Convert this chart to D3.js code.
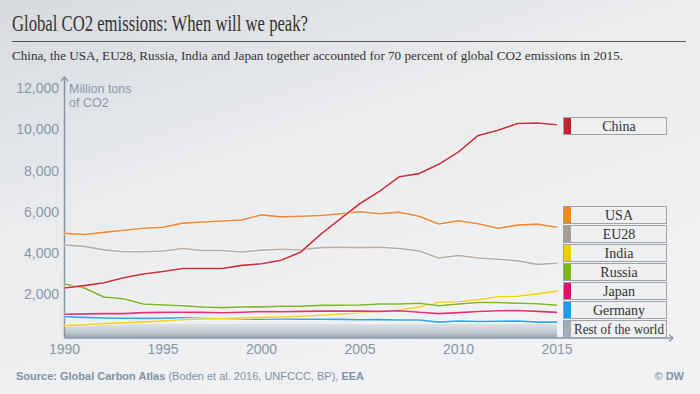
<!DOCTYPE html>
<html>
<head>
<meta charset="utf-8">
<script src="https://cdn.jsdelivr.net/npm/d3@7"></script>
<style>
  html, body { margin: 0; padding: 0; }
  body { width: 700px; height: 394px; overflow: hidden; }
</style>
</head>
<body>
<div id="chart"></div>
<script>
'use strict'

// data (million tons of CO2)
const years = d3.range(1990, 2016)
const china = [2300, 2420, 2560, 2800, 2980, 3100, 3250, 3250, 3250, 3400, 3480, 3650, 4050, 4900, 5650, 6400, 7000, 7700, 7850, 8300, 8900, 9700, 9950, 10280, 10300, 10220]
const usa = [4950, 4900, 5000, 5100, 5200, 5250, 5450, 5500, 5550, 5600, 5850, 5750, 5780, 5820, 5900, 6000, 5900, 5980, 5780, 5410, 5560, 5420, 5200, 5350, 5400, 5250]
const eu28 = [4390, 4320, 4150, 4060, 4060, 4100, 4220, 4120, 4120, 4050, 4140, 4180, 4160, 4260, 4280, 4260, 4280, 4220, 4100, 3760, 3880, 3760, 3700, 3620, 3450, 3500]
const india = [480, 520, 580, 610, 660, 700, 760, 800, 820, 860, 880, 900, 930, 980, 1040, 1100, 1160, 1250, 1380, 1610, 1640, 1730, 1880, 1900, 2020, 2150]
const russia = [2500, 2300, 1870, 1780, 1530, 1480, 1440, 1380, 1350, 1380, 1390, 1420, 1420, 1460, 1470, 1480, 1530, 1530, 1560, 1440, 1530, 1600, 1600, 1560, 1540, 1470]
const japan = [1030, 1050, 1060, 1060, 1110, 1120, 1130, 1120, 1100, 1130, 1160, 1150, 1170, 1180, 1180, 1180, 1170, 1200, 1130, 1060, 1110, 1160, 1200, 1210, 1170, 1120]
const germany = [910, 880, 850, 840, 830, 830, 860, 830, 820, 800, 790, 800, 790, 790, 780, 760, 770, 750, 750, 650, 700, 680, 690, 700, 650, 650]
const restBand = [560, 560]   // rest of the world, drawn as a faded band at the bottom

const series = [
  { name: 'China', values: china, color: '#cf2e3b', key: '#c8202f' },
  { name: 'USA', values: usa, color: '#f08837', key: '#ef8a12' },
  { name: 'EU28', values: eu28, color: '#b8aea5', key: '#a89d92' },
  { name: 'India', values: india, color: '#f4d21c', key: '#eed000' },
  { name: 'Russia', values: russia, color: '#80b52a', key: '#7db714' },
  { name: 'Japan', values: japan, color: '#e23179', key: '#e2106c' },
  { name: 'Germany', values: germany, color: '#2ea7f2', key: '#12a0f6' },
  { name: 'Rest of the world', values: null, color: '#a6b0ba', key: '#a3adb7' }
]
const yTicks = [2000, 4000, 6000, 8000, 10000, 12000]
const xTicks = [1990, 1995, 2000, 2005, 2010, 2015]

const W = 700
const H = 394
const axisColor = '#8394a6'
const labelColor = '#8797a8'

const svg = d3.select('#chart').append('svg')
  .attr('width', W).attr('height', H)
  .style('font-family', "'Liberation Sans', Arial, sans-serif")

const defs = svg.append('defs')
const bg = defs.append('linearGradient').attr('id', 'bg')
  .attr('x1', '0').attr('y1', '0').attr('x2', '0.6').attr('y2', '1')
bg.append('stop').attr('offset', '0').attr('stop-color', '#d6dadf')
bg.append('stop').attr('offset', '0.45').attr('stop-color', '#eaecee')
bg.append('stop').attr('offset', '1').attr('stop-color', '#f1f2f3')

const band = defs.append('linearGradient').attr('id', 'band')
  .attr('x1', '0').attr('y1', '0').attr('x2', '0').attr('y2', '1')
band.append('stop').attr('offset', '0').attr('stop-color', '#dfe3e7')
band.append('stop').attr('offset', '0.35').attr('stop-color', '#c6cdd4')
band.append('stop').attr('offset', '1').attr('stop-color', '#9ea8b2')

svg.append('rect').attr('width', W).attr('height', H).attr('fill', 'url(#bg)')

// title and subtitle
svg.append('text')
  .attr('x', 12).attr('y', 31)
  .attr('textLength', 296).attr('lengthAdjust', 'spacingAndGlyphs')
  .style('font-family', "'Liberation Serif', 'DejaVu Serif', serif")
  .style('font-size', '23px').attr('fill', '#333')
  .text('Global CO2 emissions: When will we peak?')
svg.append('line')
  .attr('x1', 12).attr('x2', 686).attr('y1', 41.5).attr('y2', 41.5)
  .attr('stroke', '#555').attr('stroke-width', 1)
svg.append('text')
  .attr('x', 12).attr('y', 60)
  .attr('textLength', 611).attr('lengthAdjust', 'spacingAndGlyphs')
  .style('font-family', "'Liberation Serif', 'DejaVu Serif', serif")
  .style('font-size', '13.5px').attr('fill', '#333')
  .text('China, the USA, EU28, Russia, India and Japan together accounted for 70 percent of global CO2 emissions in 2015.')

// scales
const x = d3.scaleLinear().domain([1990, 2015]).range([64.5, 557])
const y = d3.scaleLinear().domain([0, 12000]).range([335.5, 88])

// rest of the world band
const bandArea = d3.area().x(d => x(d)).y0(y(0) + 2).y1((d, i) => y(restBand[i]))
svg.append('path').datum([1990, 2015])
  .attr('d', bandArea).attr('fill', 'url(#band)')
const streaks = [90, 180, 250, 330, 420]
svg.selectAll('.streak').data(streaks).enter().append('line')
  .attr('x1', x(1990)).attr('x2', x(2015))
  .attr('y1', d => y(d)).attr('y2', d => y(d))
  .attr('stroke', '#ffffff').attr('stroke-opacity', 0.3).attr('stroke-width', 0.8)

// axes
svg.append('line')
  .attr('x1', x(1990)).attr('x2', x(1990)).attr('y1', 338).attr('y2', 77)
  .attr('stroke', axisColor).attr('stroke-width', 1.5)
svg.append('path').attr('d', `M${x(1990) - 3.5},81 L${x(1990)},77 L${x(1990) + 3.5},81`)
  .attr('fill', 'none').attr('stroke', axisColor).attr('stroke-width', 1.2)
svg.append('line')
  .attr('x1', x(1990)).attr('x2', 673).attr('y1', 338).attr('y2', 338)
  .attr('stroke', axisColor).attr('stroke-width', 1.5)
svg.append('path').attr('d', 'M669,334.5 L673,338 L669,341.5')
  .attr('fill', 'none').attr('stroke', axisColor).attr('stroke-width', 1.2)

svg.selectAll('.ytick').data(yTicks).enter().append('text')
  .attr('x', 59).attr('y', d => y(d) + 5)
  .attr('text-anchor', 'end').style('font-size', '14px').attr('fill', labelColor)
  .text(d => d3.format(',')(d))
svg.selectAll('.xtick').data(xTicks).enter().append('text')
  .attr('x', d => x(d)).attr('y', 354)
  .attr('text-anchor', 'middle').style('font-size', '14px').attr('fill', labelColor)
  .text(d => d)

svg.append('text').attr('x', 69).attr('y', 93)
  .style('font-size', '12.5px').attr('fill', labelColor).text('Million tons')
svg.append('text').attr('x', 69).attr('y', 107)
  .style('font-size', '12.5px').attr('fill', labelColor).text('of CO2')

// lines
const line = d3.line().x((d, i) => x(years[i])).y(d => y(d))
const lineData = series.filter(s => s.values)
const drawOrder = ['Germany', 'India', 'Japan', 'Russia', 'EU28', 'USA', 'China']
drawOrder.forEach(name => {
  const s = lineData.find(d => d.name === name)
  svg.append('path').datum(s.values).attr('d', line)
    .attr('fill', 'none').attr('stroke', '#ffffff').attr('stroke-opacity', 0.7)
    .attr('stroke-width', 3).attr('stroke-linejoin', 'round')
  svg.append('path').datum(s.values).attr('d', line)
    .attr('fill', 'none').attr('stroke', s.color)
    .attr('stroke-width', 1.6).attr('stroke-linejoin', 'round')
})

// legend boxes
const legendTop = { China: 117 }
const legend = svg.selectAll('.key').data(series).enter().append('g')
  .attr('transform', (d, i) => {
    const top = legendTop[d.name] !== undefined ? legendTop[d.name] : 206 + (i - 1) * 19
    return `translate(563,${top})`
  })
legend.append('rect')
  .attr('x', 0.5).attr('y', 0.5).attr('width', 103).attr('height', 17)
  .attr('fill', '#eef0f2').attr('stroke', '#9ea3a9').attr('stroke-width', 1)
legend.append('rect')
  .attr('x', 1).attr('y', 1).attr('width', 7).attr('height', 16)
  .attr('fill', d => d.key)
legend.append('text')
  .attr('x', 56).attr('y', 13.5).attr('text-anchor', 'middle')
  .style('font-family', "'Liberation Serif', 'DejaVu Serif', serif")
  .style('font-size', '14px').attr('fill', '#333')
  .text(d => d.name)
  .each(function () {
    // squeeze long labels so they stay clear of the colour swatch
    if (this.getComputedTextLength() > 90) {
      d3.select(this).attr('textLength', 90).attr('lengthAdjust', 'spacingAndGlyphs')
    }
  })

// source and credit
const src = svg.append('text').attr('x', 16).attr('y', 380)
  .style('font-size', '11px').attr('fill', '#7f92a5')
src.append('tspan').style('font-weight', 'bold').text('Source: Global Carbon Atlas ')
src.append('tspan').text('(Boden et al. 2016, UNFCCC, BP), ')
src.append('tspan').style('font-weight', 'bold').text('EEA')
svg.append('text').attr('x', 684).attr('y', 380).attr('text-anchor', 'end')
  .style('font-size', '11px').style('font-weight', 'bold').attr('fill', '#7f92a5')
  .text('© DW')
</script>
</body>
</html>
